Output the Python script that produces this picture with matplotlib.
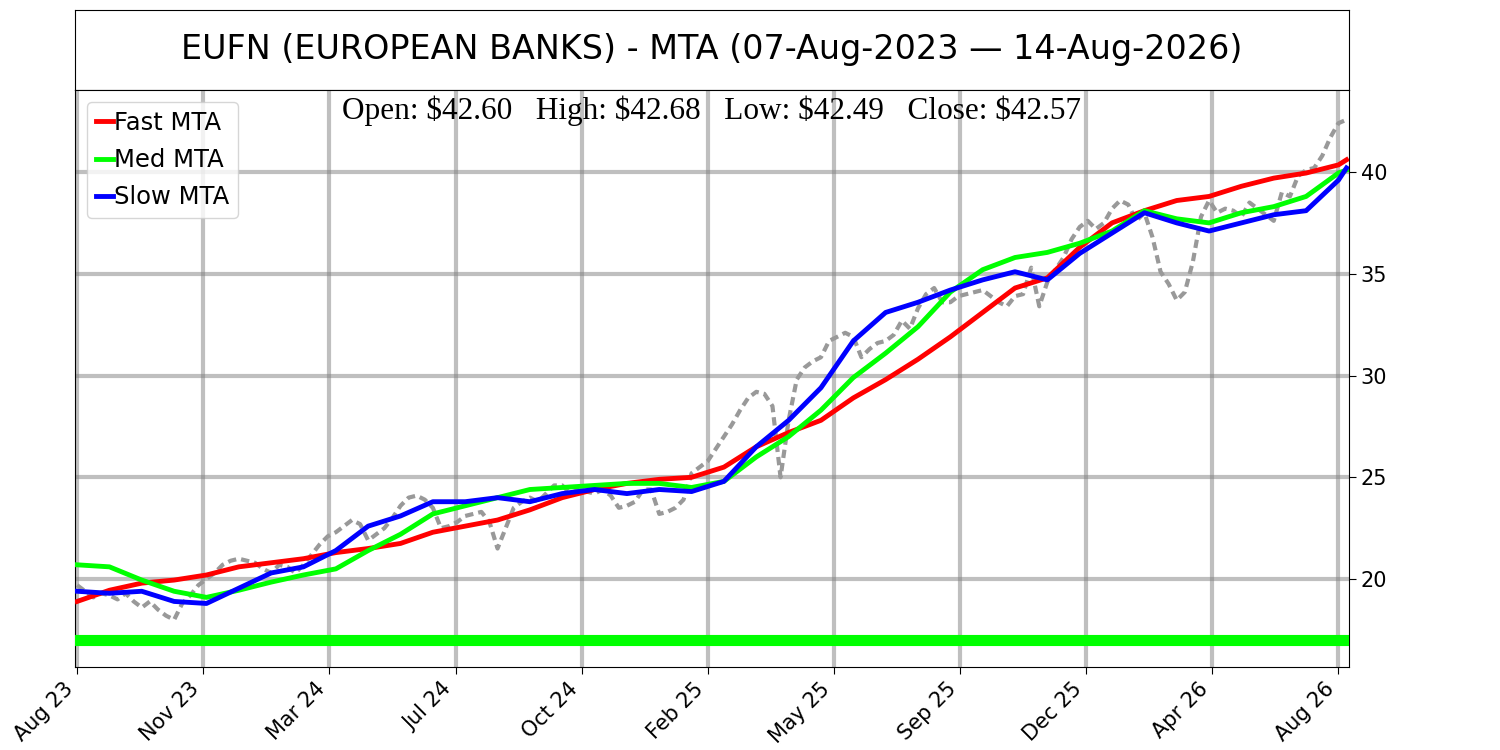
import numpy as np
import matplotlib
matplotlib.use("Agg")
import matplotlib.pyplot as plt

# number of daily sessions shown and the date labels under every 78th one
n_bars = 786
tick_step = 78
tick_labels = ["Aug 23", "Nov 23", "Mar 24", "Jul 24", "Oct 24", "Feb 25",
               "May 25", "Sep 25", "Dec 25", "Apr 26", "Aug 26"]

# weekly closes (every 5th bar) plus the last close
close = [19.7, 19.4, 19.1, 19.3, 19.2, 19.0, 19.3, 18.9, 18.6, 18.9,
         18.5, 18.2, 18.0, 18.8, 19.2, 19.7, 20.0, 20.3, 20.7, 20.9,
         21.0, 20.9, 20.8, 20.5, 20.3, 20.7, 20.6, 20.3, 20.7, 21.2,
         21.7, 22.1, 22.3, 22.6, 22.9, 22.7, 21.9, 22.2, 22.5, 23.0,
         23.6, 24.0, 24.1, 23.9, 23.5, 22.5, 22.6, 22.8, 23.1, 23.2,
         23.3, 22.8, 21.5, 22.5, 23.5, 23.8, 24.0, 23.8, 24.2, 24.6,
         24.6, 24.2, 24.4, 24.3, 24.2, 24.4, 24.1, 23.5, 23.6, 23.8,
         24.4, 24.4, 23.2, 23.3, 23.5, 23.9, 25.2, 25.5, 25.8, 26.4,
         27.0, 27.6, 28.3, 28.9, 29.2, 29.1, 28.5, 25.0, 27.8, 29.8,
         30.4, 30.7, 30.9, 31.7, 31.9, 32.1, 31.9, 30.9, 31.3, 31.6,
         31.7, 32.0, 32.7, 32.3, 33.3, 34.0, 34.3, 33.6, 33.6, 33.9,
         34.0, 34.1, 34.2, 33.9, 33.6, 33.4, 33.9, 34.0, 35.3, 33.4,
         34.6, 35.2, 35.8, 36.7, 37.3, 37.6, 37.2, 37.5, 38.2, 38.6,
         38.4, 37.6, 38.0, 36.8, 35.1, 34.5, 33.7, 34.1, 35.6, 37.8,
         38.6, 38.0, 38.2, 38.1, 37.8, 38.5, 38.2, 37.9, 37.6, 39.0,
         38.8, 39.8, 40.1, 40.2, 40.8, 41.7, 42.4, 42.57]

# moving trend averages, every 20th bar plus the last bar
fast_mta = [18.9, 19.45, 19.8, 19.95, 20.2, 20.6, 20.8, 21.0, 21.3, 21.5,
            21.75, 22.3, 22.6, 22.9, 23.4, 24.0, 24.4, 24.7, 24.9, 25.0,
            25.5, 26.5, 27.2, 27.8, 28.9, 29.8, 30.8, 31.9, 33.1, 34.3,
            34.8, 36.3, 37.5, 38.1, 38.6, 38.8, 39.3, 39.7, 39.95, 40.35, 40.6]
med_mta = [20.7, 20.6, 19.95, 19.4, 19.1, 19.45, 19.85, 20.2, 20.5, 21.4,
           22.2, 23.2, 23.6, 24.0, 24.4, 24.5, 24.6, 24.7, 24.7, 24.5,
           24.8, 26.0, 27.0, 28.3, 29.9, 31.1, 32.4, 34.1, 35.2, 35.8,
           36.05, 36.5, 37.1, 38.1, 37.7, 37.5, 38.0, 38.3, 38.8, 39.95, 40.1]
slow_mta = [19.4, 19.3, 19.4, 18.9, 18.8, 19.55, 20.3, 20.6, 21.4, 22.6,
            23.1, 23.8, 23.8, 24.0, 23.8, 24.2, 24.4, 24.2, 24.4, 24.3,
            24.8, 26.5, 27.8, 29.4, 31.7, 33.1, 33.6, 34.2, 34.7, 35.1,
            34.7, 36.0, 37.0, 38.0, 37.5, 37.1, 37.5, 37.9, 38.1, 39.6, 40.2]

support_level = 17.0
title = "EUFN (EUROPEAN BANKS) - MTA (07-Aug-2023 \u2014 14-Aug-2026)"
ohlc_text = "Open: $42.60   High: $42.68   Low: $42.49   Close: $42.57"

price_x = list(range(0, 781, 5)) + [n_bars - 1]
mta_x = list(range(0, 781, 20)) + [n_bars - 1]
ticks = list(range(0, n_bars, tick_step))

fig = plt.figure(figsize=(15, 7.5), dpi=100)
ax_t = fig.add_axes([0.05, 0.88, 0.8493, 0.1067])
ax_t.set_xticks([])
ax_t.set_yticks([])
ax_t.text(0.5, 0.5, title, ha="center", va="center", fontsize=24,
          transform=ax_t.transAxes)

ax = fig.add_axes([0.05, 0.1107, 0.8493, 0.7693])
ax.plot(price_x, close, color="#999999", lw=3, ls=(0, (2, 1.2)), zorder=2)
ax.plot(mta_x, fast_mta, color="red", lw=3.5, label="Fast MTA", zorder=3,
        solid_joinstyle="round")
ax.plot(mta_x, med_mta, color="lime", lw=3.5, label="Med MTA", zorder=3,
        solid_joinstyle="round")
ax.plot(mta_x, slow_mta, color="blue", lw=3.5, label="Slow MTA", zorder=4,
        solid_joinstyle="round")
ax.axhline(support_level, color="lime", lw=8, zorder=3)

ax.set_xlim(-1.3, n_bars + 0.5)
ax.set_ylim(15.68, 44.03)
ax.set_xticks(ticks)
ax.set_xticklabels(tick_labels, rotation=45, ha="right", fontsize=15)
ax.set_yticks([20, 25, 30, 35, 40])
ax.yaxis.tick_right()
ax.tick_params(axis="y", labelsize=15, length=5)
ax.tick_params(axis="x", length=5)
ax.grid(True, color="gray", alpha=0.5, lw=3)
ax.set_axisbelow(True)

ax.text(0.5, 0.99, ohlc_text, ha="center", va="top", fontsize=22.5,
        family="Liberation Serif", transform=ax.transAxes, parse_math=False)
leg = ax.legend(loc="upper left", fontsize=17.5, handlelength=0.7,
                handletextpad=0.05, borderaxespad=0.5, labelspacing=0.55,
                borderpad=0.35)
for line in leg.get_lines():
    line.set_linewidth(3.5)

fig.savefig("out.png", dpi=100)
